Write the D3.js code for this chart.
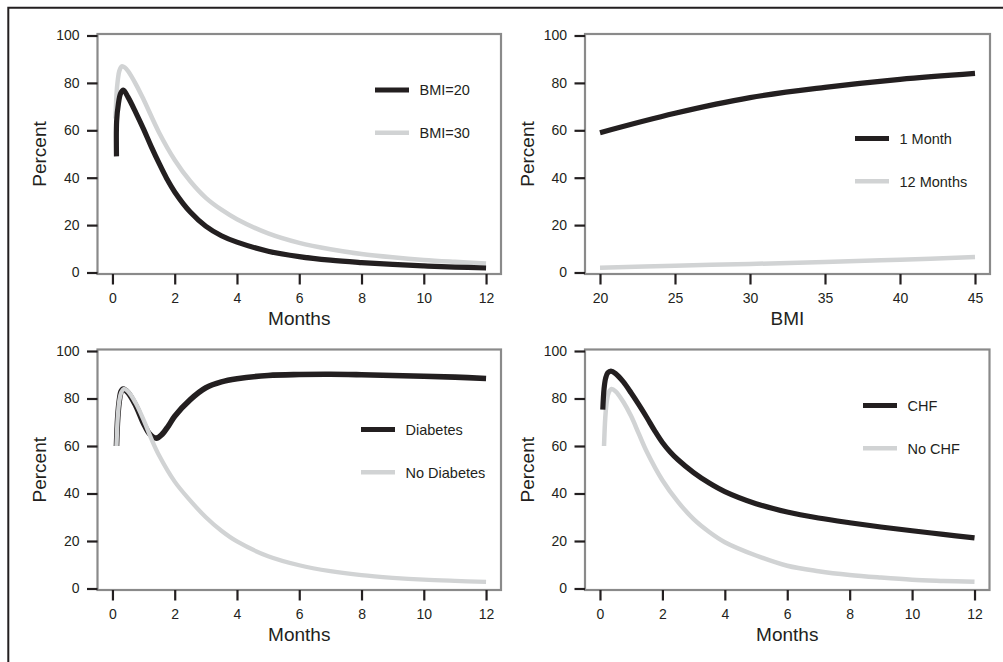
<!DOCTYPE html>
<html>
<head>
<meta charset="utf-8">
<script src="https://cdn.jsdelivr.net/npm/d3@7"></script>
<style>
  html, body { margin: 0; padding: 0; background: #fff; }
  svg { display: block; }
  text { font-family: "Liberation Sans", Arial, Helvetica, sans-serif; fill: #231f20; }
</style>
</head>
<body>
<svg id="chart" width="1003" height="662"></svg>
<script>
// ---------- Data ----------
const yTicks = [0, 20, 40, 60, 80, 100];
const monthTicks = [0, 2, 4, 6, 8, 10, 12];
const bmiTicks = [20, 25, 30, 35, 40, 45];

// Panel 1: by BMI, over months
const bmi20Months = [0.13, 0.135, 0.19, 0.26, 0.35, 0.5, 0.75, 1, 1.25, 1.5, 1.75, 2, 2.5, 3, 3.5, 4, 5, 6, 7, 8, 9, 10, 11, 12];
const bmi20Values = [49, 64, 71, 75.5, 77, 74, 67.5, 60.5, 53, 46, 39.5, 34, 25.5, 19.5, 15.5, 12.8, 9, 6.7, 5.2, 4.2, 3.4, 2.8, 2.3, 1.9];
const bmi30Months = [0.1, 0.13, 0.17, 0.22, 0.3, 0.4, 0.5, 0.75, 1, 1.5, 2, 2.5, 3, 3.5, 4, 5, 6, 7, 8, 9, 10, 11, 12];
const bmi30Values = [65, 75, 81, 85, 87, 86.5, 85, 79.5, 73, 59, 47.5, 38.5, 31.5, 26.5, 22.5, 16.5, 12.5, 9.8, 7.8, 6.4, 5.3, 4.5, 3.8];

// Panel 2: by BMI, at 1 and 12 months
const bmiValues = [20, 25, 30, 35, 40, 45];
const oneMonthValues = [59, 67.2, 73.8, 78.1, 81.5, 84];
const twelveMonthValues = [2.0, 2.9, 3.6, 4.4, 5.4, 6.5];

// Panel 3: diabetes
const diabetesMonths = [0.13, 0.17, 0.22, 0.28, 0.35, 0.5, 0.75, 1, 1.2, 1.41, 1.6, 1.8, 2, 2.5, 3, 3.5, 4, 5, 6, 7, 8, 9, 10, 11, 12];
const diabetesValues = [60, 72, 79, 83, 84, 82.5, 77, 69.5, 65, 63.3, 65, 68.5, 72.5, 79.5, 84.5, 87, 88.3, 89.7, 90.1, 90.2, 90, 89.7, 89.4, 89, 88.4];
const noDiabetesMonths = [0.13, 0.17, 0.22, 0.28, 0.36, 0.5, 0.75, 1, 1.25, 1.5, 2, 2.5, 3, 3.5, 4, 5, 6, 7, 8, 9, 10, 11, 12];
const noDiabetesValues = [60, 72, 79, 82.5, 84, 83, 78, 71, 63, 56, 45, 37, 30, 24.3, 19.8, 13.6, 9.8, 7.3, 5.6, 4.5, 3.7, 3.2, 2.8];

// Panel 4: CHF
const chfMonths = [0.09, 0.13, 0.18, 0.25, 0.35, 0.5, 0.75, 1, 1.25, 1.5, 1.75, 2, 2.25, 2.5, 3, 3.5, 4, 5, 6, 7, 8, 9, 10, 11, 12];
const chfValues = [75.3, 84, 88.5, 90.8, 91.5, 90.5, 87, 82.3, 77.3, 72, 66.5, 61.5, 57.5, 54.2, 48.8, 44.4, 40.8, 35.7, 32.2, 29.7, 27.7, 25.9, 24.3, 22.8, 21.3];
const noChfMonths = [0.13, 0.17, 0.22, 0.28, 0.37, 0.5, 0.75, 1, 1.25, 1.5, 2, 2.5, 3, 3.5, 4, 5, 6, 7, 8, 9, 10, 11, 12];
const noChfValues = [60, 72, 79, 82.5, 84, 83, 78.5, 72.5, 65, 57.6, 45.6, 36.5, 29.2, 23.8, 19.5, 13.9, 9.6, 7.3, 5.7, 4.6, 3.7, 3.2, 2.8];

const DARK = "#231f20";
const LIGHT = "#d1d3d4";
const BOX = "#8a8a8a";

const zip = (xs, ys) => xs.map((x, i) => [x, ys[i]]);

const panels = [
  { box: [97.5, 501, 34, 274], xDomain: [0, 12], xTicks: monthTicks, xTitle: "Months",
    series: [
      { name: "BMI=30", color: LIGHT, w: 4.5, pts: zip(bmi30Months, bmi30Values) },
      { name: "BMI=20", color: DARK, w: 5.2, pts: zip(bmi20Months, bmi20Values) }
    ],
    legend: { x: 375, y: 90, order: ["BMI=20", "BMI=30"] } },
  { box: [585, 990, 34, 274], xDomain: [20, 45], xTicks: bmiTicks, xTitle: "BMI",
    series: [
      { name: "12 Months", color: LIGHT, w: 4.5, pts: zip(bmiValues, twelveMonthValues) },
      { name: "1 Month", color: DARK, w: 5.2, pts: zip(bmiValues, oneMonthValues) }
    ],
    legend: { x: 855, y: 138.5, order: ["1 Month", "12 Months"] } },
  { box: [97.5, 501, 349.5, 590], xDomain: [0, 12], xTicks: monthTicks, xTitle: "Months",
    series: [
      { name: "Diabetes", color: DARK, w: 5.6, pts: zip(diabetesMonths, diabetesValues) },
      { name: "No Diabetes", color: LIGHT, w: 4.3, pts: zip(noDiabetesMonths, noDiabetesValues) }
    ],
    legend: { x: 361, y: 429.5, order: ["Diabetes", "No Diabetes"] } },
  { box: [585, 989.5, 349.5, 590], xDomain: [0, 12], xTicks: monthTicks, xTitle: "Months",
    series: [
      { name: "No CHF", color: LIGHT, w: 4.5, pts: zip(noChfMonths, noChfValues) },
      { name: "CHF", color: DARK, w: 5.2, pts: zip(chfMonths, chfValues) }
    ],
    legend: { x: 863, y: 405.5, order: ["CHF", "No CHF"] } }
];

const svg = d3.select("#chart");

// outer frame (top and left edges visible)
svg.append("path")
  .attr("d", "M8.3,662 V7.7 H1003")
  .attr("fill", "none").attr("stroke", DARK).attr("stroke-width", 2);

panels.forEach(p => {
  const [bx0, bx1, by0, by1] = p.box;
  const g = svg.append("g");
  const span = p.xDomain[1] - p.xDomain[0];
  const x = d3.scaleLinear()
    .domain([p.xDomain[0] - 0.04 * span, p.xDomain[1] + 0.04 * span])
    .range([bx0, bx1]);
  const y = d3.scaleLinear().domain([0, 100]).range([by1 - 1.5, by0 + 1.5]);

  // curves
  const line = d3.line().x(d => x(d[0])).y(d => y(d[1])).curve(d3.curveCatmullRom.alpha(0.5));
  p.series.forEach(s => {
    g.append("path").datum(s.pts)
      .attr("d", line)
      .attr("fill", "none")
      .attr("stroke", s.color)
      .attr("stroke-width", s.w)
      .attr("stroke-linejoin", "round")
      .attr("stroke-linecap", "butt");
  });

  // box
  g.append("rect")
    .attr("x", bx0).attr("y", by0)
    .attr("width", bx1 - bx0).attr("height", by1 - by0)
    .attr("fill", "none").attr("stroke", BOX).attr("stroke-width", 2.2);

  // axes
  const ax = g.append("g").attr("transform", `translate(0,${by1})`)
    .call(d3.axisBottom(x).tickValues(p.xTicks).tickSize(10.5).tickPadding(9).tickFormat(d3.format("d")));
  const ay = g.append("g").attr("transform", `translate(${bx0},0)`)
    .call(d3.axisLeft(y).tickValues(yTicks).tickSize(10.5).tickPadding(7.5).tickFormat(d3.format("d")));
  [ax, ay].forEach(a => {
    a.select(".domain").remove();
    a.selectAll(".tick line").attr("stroke", DARK).attr("stroke-width", 2.2);
    a.selectAll(".tick text").attr("fill", DARK)
      .style("font-family", '"Liberation Sans", Arial, sans-serif')
      .style("font-size", "14px");
  });

  // axis titles
  g.append("text")
    .attr("x", (x(p.xDomain[0]) + x(p.xDomain[1])) / 2)
    .attr("y", by1 + 51)
    .attr("text-anchor", "middle")
    .style("font-size", "19px")
    .text(p.xTitle);
  const py = (y(0) + y(100)) / 2;
  const px = bx0 - 51.5;
  g.append("text")
    .attr("transform", `translate(${px},${py}) rotate(-90)`)
    .attr("text-anchor", "middle")
    .style("font-size", "19px")
    .text("Percent");

  // legend
  p.legend.order.forEach((name, i) => {
    const s = p.series.find(d => d.name === name);
    const ly = p.legend.y + i * 42.7;
    g.append("line")
      .attr("x1", p.legend.x).attr("x2", p.legend.x + 34)
      .attr("y1", ly).attr("y2", ly)
      .attr("stroke", s.color).attr("stroke-width", s.color === DARK ? 5 : 4.5);
    g.append("text")
      .attr("x", p.legend.x + 44.5)
      .attr("y", ly + 5.3)
      .style("font-size", "14.5px")
      .text(name);
  });
});
</script>
</body>
</html>
